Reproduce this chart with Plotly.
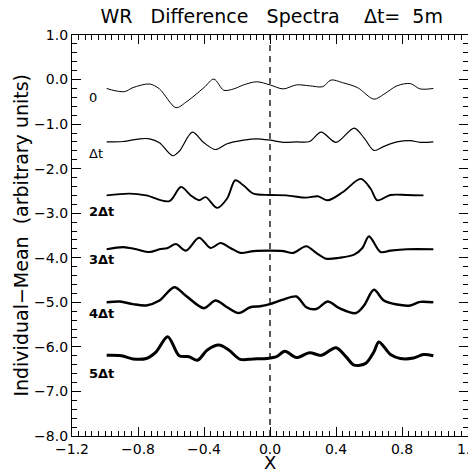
import plotly.graph_objects as go

# curve data (x, offset spectrum value)
X0 = [-0.99, -0.94, -0.88, -0.83, -0.73, -0.67, -0.57, -0.51, -0.40, -0.34, -0.28, -0.22, -0.16, -0.08,
      0.00, 0.08, 0.16, 0.24, 0.32, 0.37, 0.44, 0.53, 0.63, 0.69, 0.77, 0.85, 0.91, 0.99]
Y0 = [-0.20, -0.25, -0.27, -0.18, -0.10, -0.21, -0.63, -0.51, -0.18, 0.01, -0.24, -0.21, -0.12, -0.05,
      -0.12, -0.21, -0.12, -0.14, -0.16, -0.01, -0.07, -0.18, -0.44, -0.33, -0.14, -0.09, -0.21, -0.20]

X1 = [-0.99, -0.89, -0.79, -0.73, -0.67, -0.59, -0.55, -0.47, -0.40, -0.33, -0.26, -0.16, -0.08, 0.00,
      0.08, 0.16, 0.24, 0.31, 0.40, 0.51, 0.57, 0.63, 0.69, 0.77, 0.85, 0.91, 0.99]
Y1 = [-1.40, -1.39, -1.33, -1.33, -1.42, -1.71, -1.61, -1.18, -1.42, -1.57, -1.44, -1.36, -1.33, -1.36,
      -1.41, -1.40, -1.39, -1.18, -1.41, -1.09, -1.31, -1.59, -1.50, -1.40, -1.37, -1.41, -1.40]

X2 = [-0.99, -0.85, -0.75, -0.61, -0.54, -0.48, -0.43, -0.39, -0.32, -0.26, -0.21, -0.16, -0.10, 0.00,
      0.10, 0.22, 0.29, 0.35, 0.44, 0.55, 0.61, 0.65, 0.73, 0.83, 0.93]
Y2 = [-2.60, -2.56, -2.60, -2.73, -2.41, -2.60, -2.71, -2.64, -2.88, -2.67, -2.26, -2.38, -2.56, -2.59,
      -2.60, -2.65, -2.62, -2.71, -2.53, -2.23, -2.45, -2.71, -2.59, -2.59, -2.60]

X3 = [-0.99, -0.89, -0.81, -0.73, -0.67, -0.62, -0.57, -0.51, -0.43, -0.36, -0.30, -0.24, -0.18, -0.10,
      0.00, 0.08, 0.14, 0.22, 0.28, 0.34, 0.42, 0.51, 0.56, 0.60, 0.67, 0.73, 0.83, 0.99]
Y3 = [-3.81, -3.76, -3.81, -3.87, -3.81, -3.78, -3.69, -3.84, -3.55, -3.78, -3.67, -3.78, -3.89, -3.85,
      -3.84, -3.85, -3.89, -3.74, -3.89, -4.02, -4.00, -3.93, -3.78, -3.52, -3.87, -3.84, -3.81, -3.81]

X4 = [-0.99, -0.91, -0.83, -0.75, -0.67, -0.58, -0.51, -0.40, -0.33, -0.26, -0.19, -0.12, -0.06, 0.00,
      0.08, 0.16, 0.22, 0.28, 0.35, 0.42, 0.52, 0.57, 0.63, 0.69, 0.77, 0.85, 0.91, 0.99]
Y4 = [-5.00, -4.98, -5.04, -5.07, -4.96, -4.66, -4.85, -5.13, -4.96, -5.11, -5.24, -5.11, -5.09, -5.04,
      -4.94, -4.87, -5.11, -5.15, -4.98, -5.13, -5.24, -5.07, -4.72, -4.96, -5.05, -5.07, -4.99, -5.00]

X5 = [-0.99, -0.90, -0.83, -0.75, -0.69, -0.62, -0.55, -0.49, -0.44, -0.38, -0.31, -0.25, -0.18, -0.10,
      -0.02, 0.04, 0.09, 0.16, 0.24, 0.31, 0.40, 0.46, 0.51, 0.58, 0.63, 0.66, 0.73, 0.79, 0.87, 0.93, 0.99]
Y5 = [-6.19, -6.20, -6.27, -6.26, -6.11, -5.77, -6.20, -6.22, -6.30, -6.07, -5.96, -6.07, -6.28, -6.27,
      -6.26, -6.22, -6.10, -6.24, -6.13, -6.19, -6.02, -6.22, -6.41, -6.37, -6.11, -5.89, -6.17, -6.26,
      -6.25, -6.17, -6.20]

LABELS = ['0', 'Δt', '<b>2Δt</b>', '<b>3Δt</b>', '<b>4Δt</b>', '<b>5Δt</b>']
LABEL_Y = [-0.41, -1.65, -2.96, -4.03, -5.24, -6.59]

FONT = 'DejaVu Sans'
NB = '\u00a0'

fig = go.Figure()

curves = [(X0, Y0, 1.0), (X1, Y1, 1.2), (X2, Y2, 1.9), (X3, Y3, 2.1), (X4, Y4, 2.5), (X5, Y5, 3.0)]
for xs, ys, w in curves:
    fig.add_trace(go.Scatter(x=xs, y=ys, mode='lines', line=dict(color='black', width=w, shape='spline', smoothing=0.9),
                             showlegend=False, hoverinfo='skip'))

# dashed zero line
fig.add_trace(go.Scatter(x=[0, 0], y=[-8, 1], mode='lines', line=dict(color='black', width=1.3, dash='6px,5px'),
                         showlegend=False, hoverinfo='skip'))

for lab, ly in zip(LABELS, LABEL_Y):
    fig.add_annotation(x=-1.11, y=ly, text=lab, showarrow=False, xanchor='left', yanchor='middle',
                       font=dict(family=FONT, size=13, color='black'))

# axis titles as annotations so they sit where the reference has them
fig.add_annotation(xref='paper', yref='paper', x=0.5, y=-0.066, text='X', showarrow=False,
                   xanchor='center', yanchor='middle', font=dict(family=FONT, size=18, color='black'))
fig.add_annotation(xref='paper', yref='paper', x=-0.131, y=0.5, textangle=-90,
                   text='Individual−Mean' + NB * 2 + '(arbitrary' + NB + 'units)', showarrow=False,
                   xanchor='center', yanchor='middle', font=dict(family=FONT, size=19, color='black'))

axis_common = dict(showline=True, linecolor='black', linewidth=1.2, mirror='allticks', ticks='inside',
                   tickcolor='black', ticklen=9, tickwidth=1, showgrid=False, zeroline=False, automargin=False,
                   tickfont=dict(family=FONT, size=14, color='black'))

fig.update_xaxes(range=[-1.2, 1.2], tick0=-1.2, dtick=0.4, tickformat='.1f',
                 minor=dict(dtick=0.04, ticks='inside', ticklen=5, tickcolor='black', tickwidth=1),
                 **axis_common)
fig.update_yaxes(range=[-8, 1], tick0=-8, dtick=1, tickformat='.1f',
                 minor=dict(dtick=0.2, ticks='inside', ticklen=5, tickcolor='black', tickwidth=1),
                 **axis_common)

# page body adds an 8px offset, so margins are shifted to compensate
title_text = 'WR' + NB * 3 + 'Difference' + NB * 3 + 'Spectra' + NB * 4 + 'Δt=' + NB * 2 + '5m'
fig.update_layout(
    width=476, height=473,
    margin=dict(l=64, r=16, t=27, b=45),
    paper_bgcolor='white', plot_bgcolor='white',
    title=dict(text=title_text, x=0.554, xanchor='center', y=0.983, yanchor='middle',
               font=dict(family=FONT, size=19, color='black')),
)

fig.write_html("out.html")
